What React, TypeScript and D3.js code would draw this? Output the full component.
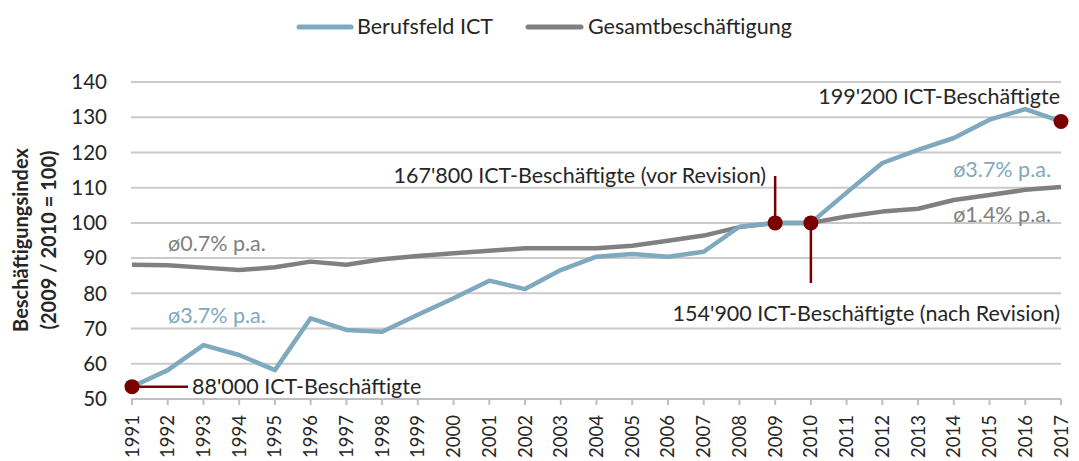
import React from "react";
import * as d3 from "d3";

const years = [1991,1992,1993,1994,1995,1996,1997,1998,1999,2000,2001,2002,2003,2004,2005,2006,2007,2008,2009,2010,2011,2012,2013,2014,2015,2016,2017];
const ictValues = [53.5,58.2,65.3,62.5,58.2,72.9,69.6,69.1,73.9,78.6,83.6,81.2,86.6,90.4,91.2,90.4,91.8,98.9,100,100,108.6,117,120.7,124.1,129.3,132.3,128.8];
const totalValues = [88.1,88,87.3,86.6,87.4,89,88.1,89.7,90.6,91.4,92.1,92.8,92.8,92.8,93.5,94.9,96.4,98.8,100,100,101.8,103.2,104,106.5,107.9,109.4,110.2];
const yTicks = [50,60,70,80,90,100,110,120,130,140];
const seriesNames = ["Berufsfeld ICT", "Gesamtbeschäftigung"];

const W = 1079, H = 461;
const FONT = "Lato, 'Open Sans', sans-serif";
const BLUE = "#7ea9be";
const GRAY = "#808080";
const RED = "#7a0000";
const TXT = "#262626";
const AF = 21.5;

export default function App() {
  const x = d3.scalePoint<number>().domain(years).range([132, 1061]);
  const y = d3.scaleLinear().domain([50, 140]).range([399, 82]);
  const line = d3.line<number>().x((_, i) => x(years[i])!).y(d => y(d));

  const dot = (yr: number, v: number) => ({ cx: x(yr)!, cy: y(v) });
  const d1991 = dot(1991, ictValues[0]);
  const d2009 = dot(2009, ictValues[18]);
  const d2010 = dot(2010, ictValues[19]);
  const d2017 = dot(2017, ictValues[26]);

  return (
    <svg width={W} height={H} style={{ position: "absolute", left: 0, top: 0, background: "#fff" }} fontFamily={FONT}>
      {yTicks.map(t => (
        <line key={t} x1={131} x2={1061} y1={y(t)} y2={y(t)} stroke={t === 50 ? "#bfbfbf" : "#cacaca"} strokeWidth={2} />
      ))}
      {yTicks.map(t => (
        <text key={"l" + t} x={107} y={y(t)} dy="0.35em" textAnchor="end" fontSize={20.5} fill={TXT}>{t}</text>
      ))}
      {years.map(yr => (
        <g key={yr}>
          <line x1={x(yr)!} x2={x(yr)!} y1={y(50)} y2={y(50) + 6} stroke="#bfbfbf" strokeWidth={2} />
          <text transform={`translate(${x(yr)! + 6.5},${y(50) + 16}) rotate(-90)`} textAnchor="end" fontSize={18.5} fill={TXT}>{yr}</text>
        </g>
      ))}
      <g transform="translate(28,240) rotate(-90)">
        <text textAnchor="middle" fontSize={20} fontWeight="bold" fill={TXT}>Beschäftigungsindex</text>
        <text y={28} textAnchor="middle" fontSize={20} fontWeight="bold" fill={TXT}>(2009 / 2010 = 100)</text>
      </g>
      <path d={line(totalValues)!} fill="none" stroke={GRAY} strokeWidth={4.5} strokeLinejoin="round" />
      <path d={line(ictValues)!} fill="none" stroke={BLUE} strokeWidth={4.5} strokeLinejoin="round" />

      <line x1={d1991.cx} x2={188} y1={d1991.cy} y2={d1991.cy} stroke={RED} strokeWidth={2.5} />
      <line x1={d2009.cx} x2={d2009.cx} y1={d2009.cy} y2={176} stroke={RED} strokeWidth={2.5} />
      <line x1={d2010.cx} x2={d2010.cx} y1={d2010.cy} y2={283} stroke={RED} strokeWidth={2.5} />
      {[d1991, d2009, d2010, d2017].map((d, i) => (
        <circle key={i} cx={d.cx} cy={d.cy} r={7.5} fill={RED} />
      ))}

      <text x={192} y={386} dy="0.35em" fontSize={AF} fill={TXT}>88'000 ICT-Beschäftigte</text>
      <text x={766} y={175} dy="0.35em" textAnchor="end" fontSize={AF} fill={TXT}>167'800 ICT-Beschäftigte (vor Revision)</text>
      <text x={1060} y={313} dy="0.35em" textAnchor="end" fontSize={AF} fill={TXT}>154'900 ICT-Beschäftigte (nach Revision)</text>
      <text x={1060} y={96} dy="0.35em" textAnchor="end" fontSize={AF} fill={TXT}>199'200 ICT-Beschäftigte</text>
      <text x={1051} y={169} dy="0.35em" textAnchor="end" fontSize={AF} fill={BLUE}>ø3.7% p.a.</text>
      <text x={1051} y={214} dy="0.35em" textAnchor="end" fontSize={AF} fill={GRAY}>ø1.4% p.a.</text>
      <text x={168} y={243} dy="0.35em" fontSize={AF} fill={GRAY}>ø0.7% p.a.</text>
      <text x={168} y={315} dy="0.35em" fontSize={AF} fill={BLUE}>ø3.7% p.a.</text>

      <line x1={299} x2={351} y1={27} y2={27} stroke={BLUE} strokeWidth={5} strokeLinecap="round" />
      <text x={357} y={26} dy="0.35em" fontSize={AF} fill={TXT}>{seriesNames[0]}</text>
      <line x1={528} x2={581} y1={27} y2={27} stroke={GRAY} strokeWidth={5} strokeLinecap="round" />
      <text x={588} y={26} dy="0.35em" fontSize={AF} fill={TXT}>{seriesNames[1]}</text>
    </svg>
  );
}
